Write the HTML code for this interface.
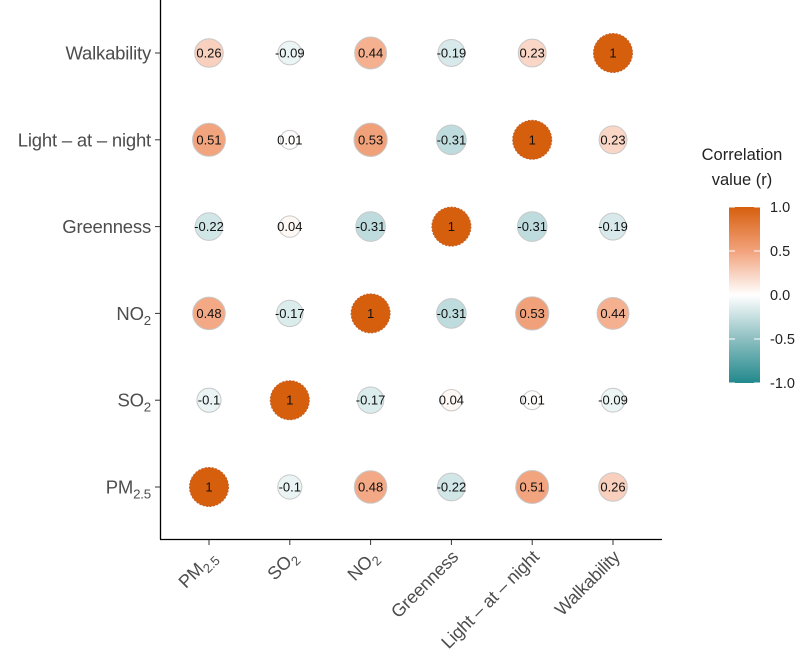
<!DOCTYPE html>
<html><head><meta charset="utf-8">
<style>
html,body{margin:0;padding:0;background:#fff;}
svg{display:block;font-family:"Liberation Sans",Arial,sans-serif;}
</style></head>
<body>
<svg id="chart" width="800" height="668" viewBox="0 0 800 668" xmlns="http://www.w3.org/2000/svg">
<defs>
<linearGradient id="cbar" x1="0" y1="1" x2="0" y2="0">
<stop offset="0" stop-color="#21898c"/>
<stop offset="0.25" stop-color="#8dbfc1"/>
<stop offset="0.5" stop-color="#ffffff"/>
<stop offset="0.75" stop-color="#f2a27c"/>
<stop offset="1" stop-color="#d65f0e"/>
</linearGradient>
</defs>
<g id="plot"></g>
<g id="legend">
<text x="742" y="160" font-size="16.5" fill="#222" text-anchor="middle">Correlation</text>
<text x="742" y="185" font-size="16.5" fill="#222" text-anchor="middle">value (r)</text>
<rect x="729" y="207" width="31" height="176" fill="url(#cbar)"/>
</g>
</svg>
<script>
const categories = ["PM2.5","SO2","NO2","Greenness","Light-at-night","Walkability"];
const rowPM = [1, -0.1, 0.48, -0.22, 0.51, 0.26];
const rowSO2 = [-0.1, 1, -0.17, 0.04, 0.01, -0.09];
const rowNO2 = [0.48, -0.17, 1, -0.31, 0.53, 0.44];
const rowGreen = [-0.22, 0.04, -0.31, 1, -0.31, -0.19];
const rowLight = [0.51, 0.01, 0.53, -0.31, 1, 0.23];
const rowWalk = [0.26, -0.09, 0.44, -0.19, 0.23, 1];
const legendTicks = [1.0, 0.5, 0.0, -0.5, -1.0];

const NS = "http://www.w3.org/2000/svg";
const rows = [rowPM, rowSO2, rowNO2, rowGreen, rowLight, rowWalk];
const plot = document.getElementById('plot');
const legend = document.getElementById('legend');
function xPos(i){ return 209 + i*80.8; }
function yPos(i){ return 487 - i*86.8; }
function rad(v){ return 8 + 11.5*Math.pow(Math.abs(v),0.45); }
function lerp(a,b,t){ return a.map((c,k)=>Math.round(c+(b[k]-c)*t)); }
function color(v){
  const stops=[[-1,[33,137,140]],[-0.5,[150,198,200]],[0,[255,255,255]],[0.5,[242,165,128]],[1,[214,95,14]]];
  for(let k=0;k<stops.length-1;k++){
    if(v<=stops[k+1][0]){const t=(v-stops[k][0])/(stops[k+1][0]-stops[k][0]);const c=lerp(stops[k][1],stops[k+1][1],t);return `rgb(${c[0]},${c[1]},${c[2]})`;}
  }
  return "rgb(214,95,14)";
}
function el(tag, attrs, parent){ const e=document.createElementNS(NS,tag); for(const k in attrs) e.setAttribute(k,attrs[k]); parent.appendChild(e); return e; }
function fillLabel(e, cat){
  const sub = {"PM2.5":["PM","2.5"],"SO2":["SO","2"],"NO2":["NO","2"]}[cat];
  if(sub){
    const a=document.createElementNS(NS,'tspan'); a.textContent=sub[0]; e.appendChild(a);
    const b=document.createElementNS(NS,'tspan'); b.setAttribute('font-size','0.72em'); b.setAttribute('dy','5'); b.textContent=sub[1]; e.appendChild(b);
  } else e.textContent = cat.replace(/-/g,' \u2013 ');
}
// axes
const ya = el('line',{x1:160.5,y1:0,x2:160.5,y2:539.5,stroke:'#000','stroke-width':1.3},plot);


const xa = el('line',{x1:160,y1:539.5,x2:662,y2:539.5,stroke:'#000','stroke-width':1.3},plot);


categories.forEach((cat,i)=>{
  const yt=el('line',{x1:155,y1:yPos(i),x2:160,y2:yPos(i),stroke:'#333','stroke-width':1},plot);
  
  
  const yl=el('text',{x:151,y:yPos(i)+6.5,'font-size':18.5,fill:'#4d4d4d','text-anchor':'end','letter-spacing':'-0.2'},plot);
  
  
  fillLabel(yl,cat);
  const xt=el('line',{x1:xPos(i),y1:540,x2:xPos(i),y2:545,stroke:'#333','stroke-width':1},plot);
  
  
  const xl=el('text',{x:0,y:0,'font-size':18,fill:'#4d4d4d','text-anchor':'end','letter-spacing':'-0.2',transform:`translate(${xPos(i)+8},${558}) rotate(-45)`},plot);
  
  
  fillLabel(xl,cat);
});
// cells
rows.forEach((row,ri)=>{
  row.forEach((v,ci)=>{
    const c=el('circle',{cx:xPos(ci),cy:yPos(ri),r:rad(v),fill:color(v),stroke:v===1?'#c0602a':'#c8c8c8','stroke-width':1},plot);
    if(v===1) c.setAttribute('stroke-dasharray','2 1.5');
    
    
    const t=el('text',{x:xPos(ci),y:yPos(ri)+4.5,'font-size':13,fill:'#111','text-anchor':'middle'},plot);
    t.textContent=String(v);
    
    
  });
});
// legend ticks
legendTicks.forEach(v=>{
  const y = 207 + (1-v)/2*176;
  const tl=el('line',{x1:729,y1:y,x2:735,y2:y,stroke:'#fff','stroke-width':1},legend);
  
  
  const tr=el('line',{x1:754,y1:y,x2:760,y2:y,stroke:'#fff','stroke-width':1},legend);
  
  
  const lt=el('text',{x:770,y:y+5,'font-size':14.5,fill:'#222'},legend);
  lt.textContent=v.toFixed(1);
  
  
});
</script>
</body></html>
